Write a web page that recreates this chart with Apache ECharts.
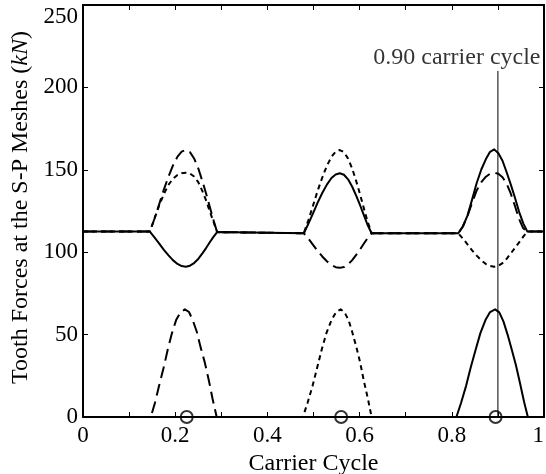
<!DOCTYPE html>
<html>
<head>
<meta charset="utf-8">
<script src="https://cdn.jsdelivr.net/npm/echarts@6/dist/echarts.min.js"></script>
<style>
  html, body { margin: 0; padding: 0; background: #fff; }
  #chart { width: 546px; height: 474px; }
</style>
</head>
<body>
<div id="chart"></div>
<script>
// Axis tick labels
const xTickLabels = ['0', '0.2', '0.4', '0.6', '0.8', '1'];
const yTickLabels = ['0', '50', '100', '150', '200', '250'];

// Tooth forces (kN) at the three sun-planet meshes, [carrier cycle, force]
// Mesh 1 (solid), upper band
const solidUpper = [
  [0, 112.5], [0.145, 112.5],
  [0.155, 109.0], [0.165, 105.4], [0.175, 101.6], [0.185, 98.2], [0.195, 95.2],
  [0.205, 92.9], [0.214, 91.6], [0.223, 91.2], [0.232, 91.8], [0.241, 93.4],
  [0.25, 95.9], [0.259, 99.3], [0.267, 102.5], [0.275, 106.0], [0.283, 109.3],
  [0.291, 112.2],
  [0.479, 111.5],
  [0.489, 117.3], [0.499, 123.6], [0.509, 130.1], [0.519, 135.9], [0.529, 141.0],
  [0.539, 145.0], [0.548, 147.2], [0.557, 147.9], [0.566, 147.0], [0.575, 144.2],
  [0.584, 139.7], [0.593, 134.0], [0.601, 128.5], [0.609, 122.6], [0.617, 116.8],
  [0.626, 111.5],
  [0.814, 111.5],
  [0.824, 115.6], [0.834, 122.2], [0.844, 131.9], [0.854, 142.0], [0.864, 150.2],
  [0.874, 156.5], [0.883, 160.9], [0.892, 162.4], [0.901, 160.0], [0.91, 155.5],
  [0.919, 148.5], [0.928, 141.0], [0.937, 133.0], [0.946, 124.5], [0.955, 117.5],
  [0.964, 112.5],
  [1, 112.5]
];
// Mesh 2 (long dash), upper band
const dashedUpper = [
  [0, 112.5], [0.145, 112.5],
  [0.155, 120.3], [0.165, 128.9], [0.175, 137.7], [0.185, 145.6], [0.195, 152.6],
  [0.205, 158.0], [0.214, 161.0], [0.223, 162.0], [0.232, 160.7], [0.241, 156.9],
  [0.25, 150.9], [0.259, 143.1], [0.267, 135.6], [0.275, 127.5], [0.283, 119.6],
  [0.291, 112.2],
  [0.479, 111.5],
  [0.489, 108.2], [0.499, 104.5], [0.509, 100.8], [0.519, 97.4], [0.529, 94.5],
  [0.539, 92.2], [0.548, 90.9], [0.557, 90.5], [0.566, 91.0], [0.575, 92.6],
  [0.584, 95.2], [0.593, 98.5], [0.601, 101.7], [0.609, 105.1], [0.617, 108.4],
  [0.626, 111.5],
  [0.814, 111.5],
  [0.824, 115.6], [0.834, 122.0], [0.844, 130.0], [0.854, 137.5], [0.864, 142.5],
  [0.874, 145.8], [0.883, 147.6], [0.892, 148.2], [0.901, 147.6], [0.91, 145.5],
  [0.919, 141.5], [0.928, 135.5], [0.937, 128.0], [0.946, 120.0], [0.955, 114.5],
  [0.964, 112.5],
  [1, 112.5]
];
// Mesh 3 (short dash), upper band
const dottedUpper = [
  [0, 112.5], [0.145, 112.5],
  [0.155, 120.3], [0.165, 128.2], [0.175, 135.0], [0.185, 140.7], [0.195, 144.6],
  [0.205, 146.9], [0.214, 147.9], [0.223, 148.2], [0.232, 147.7], [0.241, 145.9],
  [0.25, 142.5], [0.259, 137.1], [0.267, 131.4], [0.275, 124.9], [0.283, 118.5],
  [0.291, 112.2],
  [0.479, 111.5],
  [0.489, 119.5], [0.499, 128.3], [0.509, 137.3], [0.519, 145.3], [0.529, 152.4],
  [0.539, 157.9], [0.548, 161.0], [0.557, 162.0], [0.566, 160.7], [0.575, 156.8],
  [0.584, 150.7], [0.593, 142.8], [0.601, 135.1], [0.609, 126.9], [0.617, 118.9],
  [0.626, 111.5],
  [0.814, 111.5],
  [0.824, 108.3], [0.834, 104.8], [0.844, 101.1], [0.854, 97.9], [0.864, 95.1],
  [0.874, 92.8], [0.883, 91.6], [0.892, 91.2], [0.901, 91.8], [0.91, 93.4],
  [0.919, 96.0], [0.928, 99.3], [0.937, 102.6], [0.946, 106.0], [0.955, 109.4],
  [0.964, 112.5],
  [1, 112.5]
];

// Lower band: single-tooth contact forces
const solidLower = [
  [0, 0], [0.81, 0],
  [0.82, 8.5], [0.831, 18.9], [0.841, 30.0], [0.852, 41.1], [0.862, 50.9],
  [0.873, 58.8], [0.883, 63.7], [0.894, 65.3], [0.903, 63.5], [0.912, 58.0],
  [0.921, 50.0], [0.93, 41.0], [0.939, 31.5], [0.948, 20.5], [0.957, 9.0],
  [0.965, 0], [1, 0]
];
const dashedLower = [
  [0, 0], [0.147, 0],
  [0.156, 8.5], [0.165, 18.9], [0.175, 30.0], [0.184, 41.1], [0.193, 50.9],
  [0.202, 58.8], [0.212, 63.7], [0.221, 65.3], [0.23, 63.7], [0.238, 58.8],
  [0.247, 51.6], [0.255, 42.4], [0.264, 33.3], [0.273, 22.2], [0.281, 11.1],
  [0.29, 0], [1, 0]
];
const dottedLower = [
  [0, 0], [0.477, 0],
  [0.487, 8.5], [0.498, 18.9], [0.508, 30.0], [0.518, 41.1], [0.528, 50.9],
  [0.539, 58.8], [0.549, 63.7], [0.559, 65.3], [0.567, 63.7], [0.576, 58.8],
  [0.584, 51.6], [0.593, 42.4], [0.601, 33.3], [0.609, 22.2], [0.618, 11.1],
  [0.626, 0], [1, 0]
];

// Peak instants marked on the cycle axis
const peakMarks = [[0.225, 0], [0.56, 0], [0.895, 0]];

// Highlighted instant
const markedCycle = 0.90;
const markedTop = 210;
const markedText = '0.90 carrier cycle';

const FONT = '"Liberation Serif", "Times New Roman", serif';
const INK = '#000';

function lineSeries(data, type) {
  return {
    type: 'line',
    data: data,
    showSymbol: false,
    clip: false,
    lineStyle: { color: INK, width: 2, type: type, cap: 'butt', join: 'round' },
    z: 3
  };
}

const baseTick = { show: true, inside: true, length: 5, lineStyle: { color: INK, width: 1 } };
const baseLine = { show: true, onZero: false, lineStyle: { color: INK, width: 2 } };

const xLabel = function (v) {
  const k = Math.round(v * 10);
  return k % 2 === 0 ? xTickLabels[k / 2] : '';
};
const yLabel = function (v) {
  return yTickLabels[Math.round(v / 50)];
};

const chart = echarts.init(document.getElementById('chart'), null, { renderer: 'canvas' });
chart.setOption({
  backgroundColor: '#fff',
  animation: false,
  grid: { left: 83, right: 2, top: 5, bottom: 57, containLabel: false, outerBoundsMode: 'none' },
  xAxis: [
    {
      type: 'value', min: 0, max: 1, interval: 0.1, position: 'bottom',
      axisLine: baseLine, axisTick: baseTick, splitLine: { show: false },
      axisLabel: {
        formatter: xLabel, fontFamily: FONT, fontSize: 23, color: INK, margin: 7,
        alignMaxLabel: 'right'
      },
      name: 'Carrier Cycle', nameLocation: 'middle', nameGap: 33,
      nameTextStyle: { fontFamily: FONT, fontSize: 24, color: INK }
    },
    {
      type: 'value', min: 0, max: 1, interval: 0.1, position: 'top',
      axisLine: baseLine, axisTick: baseTick, splitLine: { show: false },
      axisLabel: { show: false }
    }
  ],
  yAxis: [
    {
      type: 'value', min: 0, max: 250, interval: 50, position: 'left',
      axisLine: baseLine, axisTick: baseTick, splitLine: { show: false },
      axisLabel: {
        formatter: yLabel, fontFamily: FONT, fontSize: 23, color: INK, margin: 5,
        verticalAlignMaxLabel: 'top'
      },
      name: 'Tooth Forces at the S-P Meshes ({i|kN})', nameLocation: 'middle', nameGap: 50,
      nameRotate: 90,
      nameTextStyle: {
        fontFamily: FONT, fontSize: 24, color: INK, padding: [0, 0, 0, 7],
        rich: { i: { fontFamily: FONT, fontSize: 24, color: INK, fontStyle: 'italic' } }
      }
    },
    {
      type: 'value', min: 0, max: 250, interval: 50, position: 'right',
      axisLine: baseLine, axisTick: baseTick, splitLine: { show: false },
      axisLabel: { show: false }
    }
  ],
  series: [
    lineSeries(dashedUpper, [12, 6]),
    lineSeries(dottedUpper, [5, 4]),
    lineSeries(solidUpper, 'solid'),
    lineSeries(dashedLower, [12, 6]),
    lineSeries(dottedLower, [5, 4]),
    lineSeries(solidLower, 'solid'),
    {
      type: 'line',
      data: [[markedCycle, 0], [markedCycle, markedTop]],
      showSymbol: false,
      clip: false,
      lineStyle: { color: INK, width: 1 },
      z: 4
    },
    {
      type: 'scatter',
      data: [[markedCycle, markedTop]],
      symbolSize: 0,
      label: {
        show: true, position: 'top', distance: 1, offset: [-41, 0],
        formatter: markedText, fontFamily: FONT, fontSize: 24, color: INK
      },
      z: 5
    },
    {
      type: 'scatter',
      data: peakMarks,
      symbol: 'circle',
      symbolSize: 12,
      clip: false,
      itemStyle: { color: 'rgba(0,0,0,0)', borderColor: INK, borderWidth: 2 },
      z: 6
    }
  ]
});
</script>
</body>
</html>
